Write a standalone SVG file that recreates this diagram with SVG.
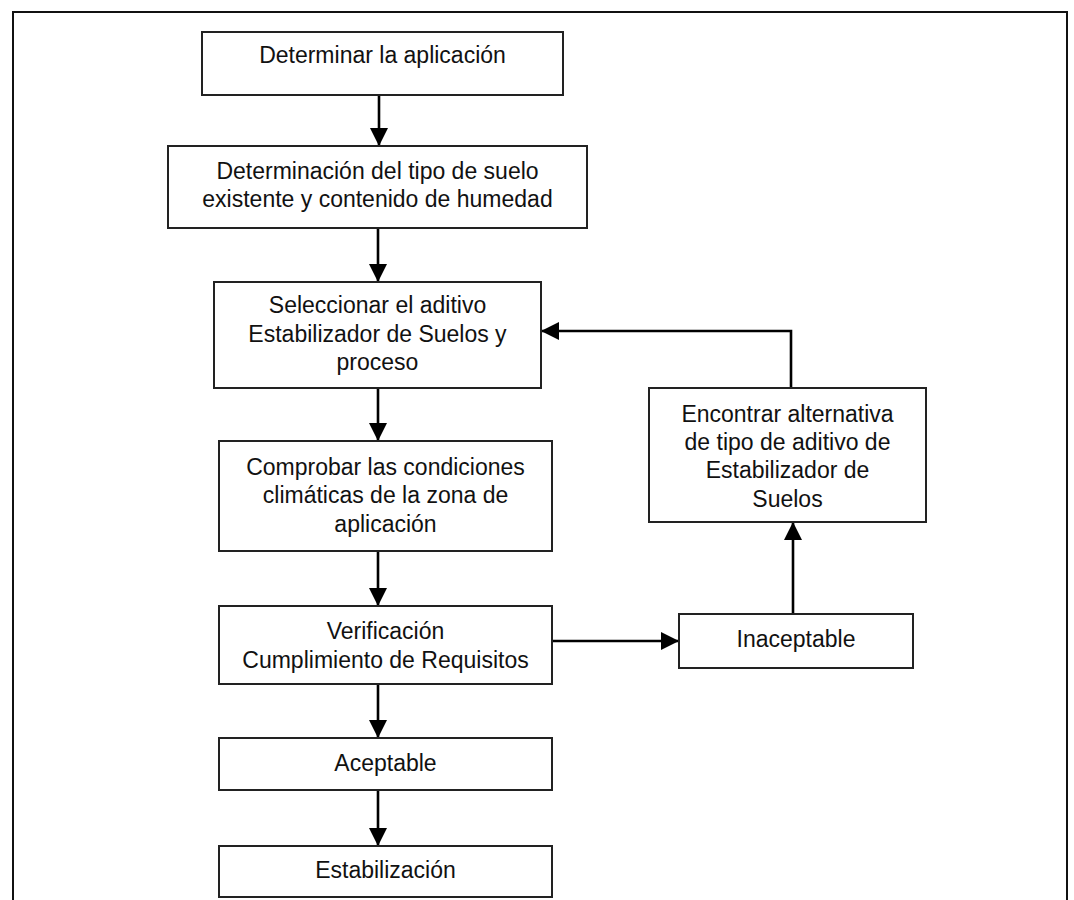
<svg xmlns="http://www.w3.org/2000/svg" width="1074" height="900" viewBox="0 0 1074 900">
<style>
.box{fill:#fff;stroke:#222;stroke-width:2}
.t{font-family:"Liberation Sans",Arial,sans-serif;font-size:23px;fill:#111;text-anchor:middle}
.c{fill:none;stroke:#000;stroke-width:2.6}
</style>
<defs>
<marker id="ah" markerUnits="userSpaceOnUse" markerWidth="18" markerHeight="18" viewBox="0 0 16 16" refX="16" refY="8" orient="auto">
<path d="M0,0 L16,8 L0,16 Z" fill="#000"/>
</marker>
</defs>
<rect x="0" y="0" width="1074" height="900" fill="#fff"/>
<rect id="frame" x="13" y="12" width="1054" height="900" fill="none" stroke="#111" stroke-width="2"/>
<g id="connectors">
<line class="c" x1="379" y1="95" x2="379" y2="146" marker-end="url(#ah)"/>
<line class="c" x1="378" y1="228" x2="378" y2="282" marker-end="url(#ah)"/>
<line class="c" x1="378" y1="388" x2="378" y2="441" marker-end="url(#ah)"/>
<line class="c" x1="378" y1="551" x2="378" y2="606" marker-end="url(#ah)"/>
<line class="c" x1="378" y1="684" x2="378" y2="738" marker-end="url(#ah)"/>
<line class="c" x1="378" y1="790" x2="378" y2="846" marker-end="url(#ah)"/>
<line class="c" x1="552" y1="641" x2="679" y2="641" marker-end="url(#ah)"/>
<line class="c" x1="793" y1="614" x2="793" y2="522" marker-end="url(#ah)"/>
<polyline class="c" points="791,388 791,331 541,331" marker-end="url(#ah)"/>
</g>
<g id="n1"><rect class="box" x="202" y="32" width="361" height="63"/><text class="t" x="382.5" y="63">Determinar la aplicación</text></g>
<g id="n2"><rect class="box" x="168" y="146" width="419" height="82"/><text class="t" x="377.5" y="179">Determinación del tipo de suelo</text><text class="t" x="377.5" y="207">existente y contenido de humedad</text></g>
<g id="n3"><rect class="box" x="214" y="282" width="327" height="106"/><text class="t" x="377.5" y="313">Seleccionar el aditivo</text><text class="t" x="377.5" y="342">Estabilizador de Suelos y</text><text class="t" x="377.5" y="370">proceso</text></g>
<g id="n4"><rect class="box" x="219" y="441" width="333" height="110"/><text class="t" x="385.5" y="475">Comprobar las condiciones</text><text class="t" x="385.5" y="503">climáticas de la zona de</text><text class="t" x="385.5" y="532">aplicación</text></g>
<g id="n5"><rect class="box" x="219" y="606" width="333" height="78"/><text class="t" x="385.5" y="639">Verificación</text><text class="t" x="385.5" y="668">Cumplimiento de Requisitos</text></g>
<g id="n6"><rect class="box" x="219" y="738" width="333" height="52"/><text class="t" x="385.5" y="771">Aceptable</text></g>
<g id="n7"><rect class="box" x="219" y="846" width="333" height="51"/><text class="t" x="385.5" y="878">Estabilización</text></g>
<g id="n8"><rect class="box" x="649" y="388" width="277" height="134"/><text class="t" x="787.5" y="422">Encontrar alternativa</text><text class="t" x="787.5" y="450">de tipo de aditivo de</text><text class="t" x="787.5" y="478">Estabilizador de</text><text class="t" x="787.5" y="507">Suelos</text></g>
<g id="n9"><rect class="box" x="679" y="614" width="234" height="54"/><text class="t" x="796" y="647">Inaceptable</text></g>
</svg>
